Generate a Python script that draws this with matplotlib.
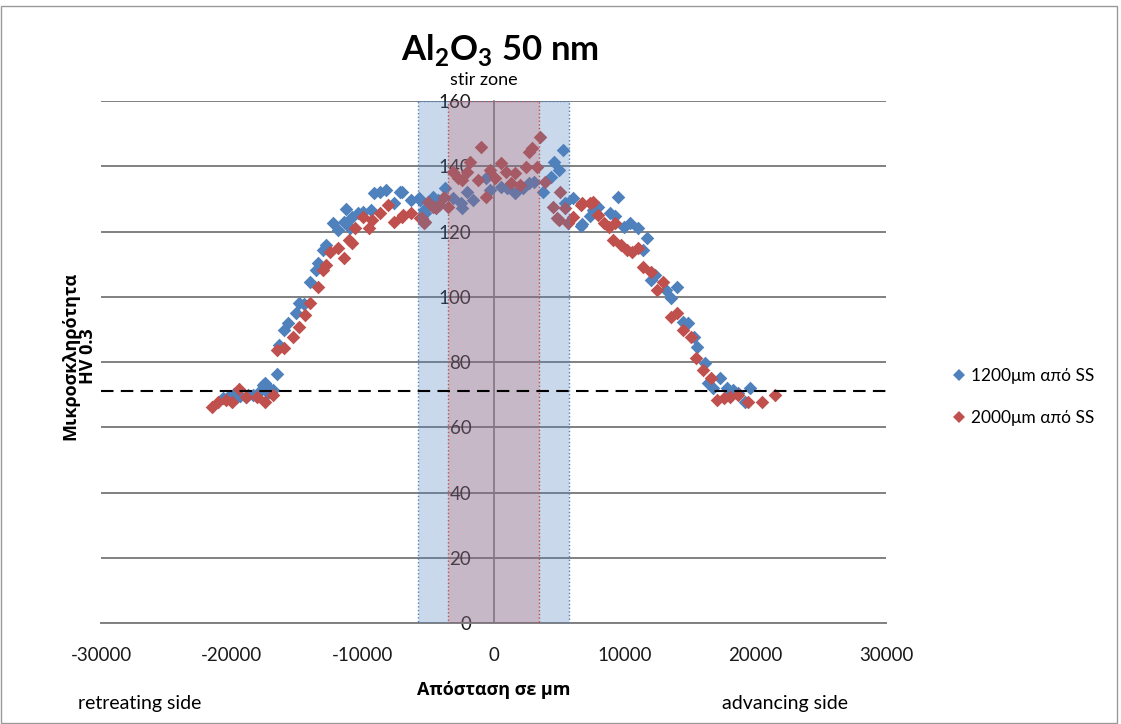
import matplotlib
matplotlib.use("Agg")
import matplotlib.pyplot as plt
from matplotlib.patches import Rectangle
from matplotlib.lines import Line2D

plt.rcParams['font.family'] = ['Lato', 'Noto Sans', 'DejaVu Sans']
plt.rcParams['axes.unicode_minus'] = False
plt.rcParams['mathtext.fontset'] = 'custom'
plt.rcParams['mathtext.rm'] = 'Lato:bold'
plt.rcParams['mathtext.bf'] = 'Lato:bold'

# Microhardness profile, 1200 um below the surface
x_1200 = [-20710, -20250, -19800, -19570, -19340, -18880, -18800, -18420, -17960, -17650,
          -17500, -17200, -17040, -16890, -16580, -16430, -16050, -15670, -15130, -14900,
          -14520, -13990, -13600, -13450, -13070, -12840, -12230, -11920, -11460, -11310,
          -10930, -10780, -10390, -9940, -9400, -9170, -8640, -8250, -7640, -7110,
          -6960, -6340, -5730, -5580, -5350, -5200, -4590, -4280, -3670, -3130,
          -2520, -2370, -1990, -1530, -610, -230, 540, 1070, 1680, 2220,
          2680, 3060, 3820, 4360, 4590, 5040, 5350, 5500, 6110, 6650,
          6800, 7410, 7570, 7950, 8940, 9320, 9550, 9940, 10470, 11080,
          11460, 11770, 12000, 12380, 13150, 13530, 14060, 14520, 14830, 15290,
          15590, 16200, 16360, 16810, 17350, 17880, 18270, 18650, 19260, 19640]
hv_1200 = [69.0, 69.6, 70.2, 69.3, 69.6, 69.3, 69.9, 69.9, 70.8, 72.9,
           73.6, 70.5, 71.4, 71.4, 76.3, 85.2, 89.8, 92.0, 95.0, 98.1,
           97.8, 104.5, 108.2, 110.3, 114.3, 115.9, 122.6, 120.5, 122.9, 126.9,
           121.1, 124.4, 125.7, 126.0, 126.6, 131.8, 132.1, 132.7, 128.7, 132.1,
           132.1, 129.7, 130.3, 129.7, 126.6, 125.7, 130.6, 129.7, 133.3, 130.3,
           128.7, 127.2, 132.1, 129.7, 136.4, 132.7, 133.6, 133.3, 131.8, 133.3,
           134.8, 135.1, 132.1, 136.7, 141.3, 138.8, 145.0, 128.7, 130.3, 121.8,
           122.4, 124.8, 126.6, 127.5, 125.7, 124.8, 130.6, 121.4, 122.6, 121.1,
           114.3, 118.0, 105.1, 106.6, 102.0, 99.6, 103.0, 92.3, 92.0, 87.7,
           84.6, 79.8, 73.6, 72.0, 75.1, 72.0, 71.4, 70.5, 67.7, 72.0]

# Microhardness profile, 2000 um below the surface
x_2000 = [-21480, -21020, -20480, -19950, -19490, -18950, -18040, -17430, -16890, -16510,
          -16050, -15360, -14900, -14370, -13990, -13450, -13070, -12840, -12460, -11850,
          -11460, -11080, -10780, -10550, -10010, -9550, -9250, -8640, -8030, -7640,
          -6960, -6880, -6340, -5580, -5430, -5350, -5200, -4970, -4590, -4430,
          -4200, -3820, -3440, -3130, -2750, -2370, -1990, -1760, -1220, -990,
          -610, -230, 150, 540, 920, 1300, 1680, 2060, 2450, 2680,
          2980, 3360, 3590, 3970, 4510, 4890, 4970, 5120, 5500, 5660,
          6110, 6650, 6800, 7410, 7570, 7950, 8410, 8790, 9100, 9320,
          9710, 10240, 10620, 11010, 11460, 12000, 12530, 12990, 13530, 14060,
          14520, 15060, 15440, 16050, 16590, 17120, 17580, 18110, 18650, 19490,
          20560, 21550]
hv_2000 = [66.2, 67.7, 68.4, 67.7, 71.7, 69.3, 69.3, 67.7, 69.9, 83.7,
           84.3, 87.7, 90.7, 94.4, 98.1, 103.0, 108.2, 109.7, 113.7, 114.9,
           111.9, 117.4, 116.5, 121.1, 124.4, 121.1, 123.5, 125.7, 128.1, 122.9,
           124.4, 125.1, 125.7, 124.1, 124.1, 122.6, 122.9, 129.0, 127.5, 127.2,
           128.1, 130.6, 127.5, 138.2, 136.4, 135.8, 138.2, 141.3, 135.8, 145.9,
           130.6, 138.8, 136.4, 141.0, 138.2, 134.8, 137.9, 134.2, 139.7, 144.3,
           145.5, 139.7, 148.9, 135.1, 127.5, 124.1, 123.5, 132.1, 127.2, 122.6,
           124.4, 128.1, 128.7, 128.7, 129.0, 125.1, 122.6, 121.4, 117.4, 122.6,
           115.9, 114.3, 113.7, 114.9, 109.1, 107.6, 102.0, 104.5, 93.8, 95.0,
           89.8, 87.7, 81.2, 77.5, 75.1, 68.4, 69.0, 69.3, 69.9, 67.7,
           67.7, 69.9]

series_labels = ['1200μm από SS', '2000μm από SS']
series_colors = ['#4f81bd', '#c0504d']
base_metal_hv = 71
stir_zone_outer = (-5750, 5750)
stir_zone_inner = (-3500, 3500)
x_ticks = [-30000, -20000, -10000, 0, 10000, 20000, 30000]
y_ticks = [0, 20, 40, 60, 80, 100, 120, 140, 160]

W, H = 1121, 724
fig = plt.figure(figsize=(W / 100, H / 100), dpi=100)
ax = fig.add_axes([101 / W, 1 - 623 / H, (886 - 101) / W, (623 - 101) / H])

grey = '#808080'
ax.set_xlim(-30000, 30000)
ax.set_ylim(0, 160)
ax.set_xticks(x_ticks)
ax.set_yticks(y_ticks)
ax.yaxis.grid(True, color=grey, lw=1.4, zorder=0)
ax.set_axisbelow(True)
for s in ('top', 'right'):
    ax.spines[s].set_visible(False)
ax.spines['left'].set_position(('data', 0))
ax.spines['left'].set_color(grey)
ax.spines['left'].set_linewidth(1.2)
ax.spines['bottom'].set_color(grey)
ax.spines['bottom'].set_linewidth(1.4)
ax.tick_params(axis='both', length=0, labelsize=13.5, colors='#1a1a1a')
ax.tick_params(axis='y', pad=16)
ax.tick_params(axis='x', pad=17)

ax.scatter(x_1200, hv_1200, marker='D', s=48, color=series_colors[0], lw=0, zorder=3)
ax.scatter(x_2000, hv_2000, marker='D', s=48, color=series_colors[1], lw=0, zorder=3)

# stir zone bands drawn over the measurements
ax.add_patch(Rectangle((stir_zone_outer[0], 0), stir_zone_outer[1] - stir_zone_outer[0], 160,
                       facecolor=(79 / 255, 129 / 255, 189 / 255, 0.3),
                       edgecolor='#4f81bd', ls=':', lw=1.0, zorder=4))
ax.add_patch(Rectangle((stir_zone_inner[0], 0), stir_zone_inner[1] - stir_zone_inner[0], 160,
                       facecolor=(192 / 255, 80 / 255, 77 / 255, 0.23),
                       edgecolor='#c0504d', ls=':', lw=1.0, zorder=5))

ax.axhline(base_metal_hv, color='black', ls=(0, (6, 3.5)), lw=1.5, zorder=6)

greek_bold = dict(family=['Open Sans', 'Noto Sans', 'DejaVu Sans'], fontweight='bold')

# titles and annotations
fig.text(500 / W, 1 - 50 / H, r'Al$_\mathbf{2}$O$_\mathbf{3}$ 50 nm', ha='center', va='center',
         fontsize=25, fontweight='bold')
fig.text(484 / W, 1 - 80 / H, 'stir zone', ha='center', va='center', fontsize=13)
fig.text(79 / W, 1 - 356 / H, 'Μικροσκληρότητα\nHV 0.3', rotation=90, ha='center', va='center',
         multialignment='center', fontsize=13, linespacing=0.95, **greek_bold)
fig.text(494 / W, 1 - 690 / H, 'Απόσταση σε μm', ha='center', va='center', fontsize=13,
         **greek_bold)
fig.text(78 / W, 1 - 703 / H, 'retreating side', ha='left', va='center', fontsize=14)
fig.text(722 / W, 1 - 703 / H, 'advancing side', ha='left', va='center', fontsize=14)

handles = [Line2D([], [], marker='D', ls='none', color=c, markersize=6, markeredgewidth=0)
           for c in series_colors]
fig.legend(handles, series_labels, loc='center left', bbox_to_anchor=(936 / W, 1 - 397 / H),
           frameon=False, fontsize=12.5, handlelength=0.8, handletextpad=0.3, labelspacing=1.45)

fig.add_artist(Rectangle((0.001, 0.001), 0.995, 0.991, transform=fig.transFigure,
                         fill=False, edgecolor='#9a9a9a', lw=1.0))

fig.savefig('out.png', dpi=100)
